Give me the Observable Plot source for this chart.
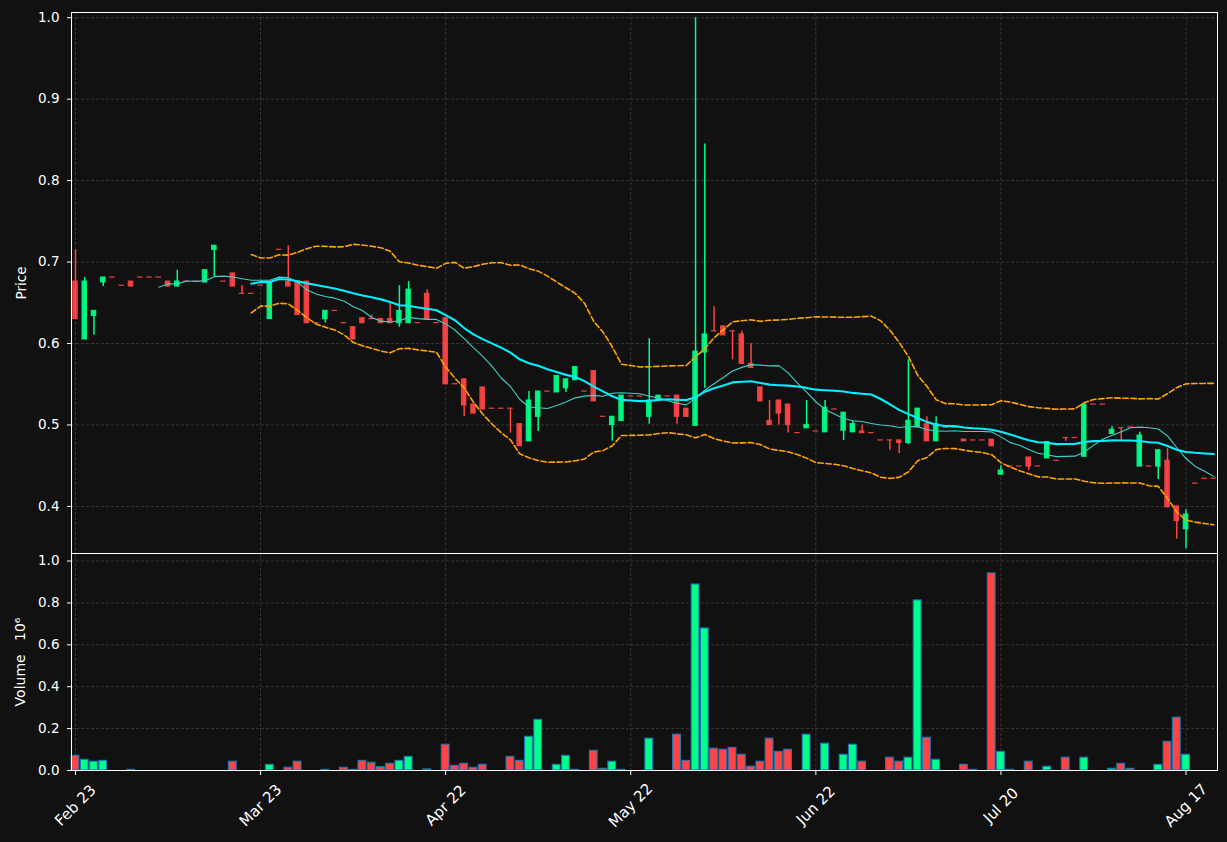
<!DOCTYPE html>
<html>
<head>
<meta charset="utf-8">
<script src="https://cdn.jsdelivr.net/npm/d3@7"></script>
<script src="https://cdn.jsdelivr.net/npm/@observablehq/plot@0.6"></script>
<style>
  html, body { margin: 0; padding: 0; background: #111111; }
  #wrap { position: relative; width: 1227px; height: 842px; background: #111111; overflow: hidden; }
  #wrap > svg, #wrap > figure { position: absolute; left: 0; margin: 0; }
</style>
</head>
<body>
<div id="wrap"></div>
<script>
// ---- data ----
const tickIdx = [0, 20, 40, 60, 80, 100, 120];
const tickLabels = ["Feb 23", "Mar 23", "Apr 22", "May 22", "Jun 22", "Jul 20", "Aug 17"];
const priceTicks = [0.4, 0.5, 0.6, 0.7, 0.8, 0.9, 1.0];
const volumeTicks = [0.0, 0.2, 0.4, 0.6, 0.8, 1.0];

const opens = [
  0.676, 0.605, 0.634, 0.675, 0.681, 0.671, 0.676, 0.681, 0.681, 0.681,
  0.676, 0.670, 0.676, 0.676, 0.675, 0.715, 0.676, 0.686, 0.661, 0.661,
  0.671, 0.630, 0.715, 0.676, 0.676, 0.676, 0.625, 0.630, 0.640, 0.625,
  0.620, 0.631, 0.630, 0.630, 0.630, 0.625, 0.625, 0.625, 0.661, 0.625,
  0.631, 0.550, 0.556, 0.525, 0.546, 0.520, 0.520, 0.520, 0.501, 0.480,
  0.510, 0.541, 0.540, 0.545, 0.555, 0.541, 0.566, 0.510, 0.500, 0.505,
  0.535, 0.535, 0.510, 0.530, 0.535, 0.536, 0.520, 0.499, 0.589, 0.615,
  0.621, 0.615, 0.611, 0.575, 0.546, 0.505, 0.530, 0.525, 0.490, 0.496,
  0.492, 0.491, 0.519, 0.493, 0.491, 0.492, 0.490, 0.481, 0.481, 0.481,
  0.478, 0.497, 0.501, 0.480, 0.4965, 0.4965, 0.482, 0.481, 0.481, 0.482,
  0.439, 0.449, 0.449, 0.460, 0.449, 0.459, 0.456, 0.484, 0.484, 0.461,
  0.525, 0.525, 0.489, 0.496, 0.497, 0.449, 0.449, 0.449, 0.456, 0.400,
  0.372, 0.428, 0.434, 0.434
];
const highs = [
  0.715, 0.681, 0.640, 0.681, 0.681, 0.671, 0.676, 0.681, 0.681, 0.681,
  0.676, 0.690, 0.676, 0.676, 0.690, 0.720, 0.676, 0.686, 0.671, 0.661,
  0.671, 0.675, 0.715, 0.720, 0.676, 0.676, 0.625, 0.640, 0.640, 0.625,
  0.620, 0.631, 0.635, 0.630, 0.651, 0.671, 0.676, 0.625, 0.666, 0.625,
  0.631, 0.550, 0.556, 0.525, 0.546, 0.520, 0.520, 0.520, 0.501, 0.541,
  0.541, 0.541, 0.560, 0.556, 0.571, 0.541, 0.566, 0.510, 0.510, 0.536,
  0.535, 0.535, 0.606, 0.536, 0.535, 0.536, 0.520, 1.000, 0.845, 0.645,
  0.621, 0.615, 0.615, 0.600, 0.546, 0.530, 0.530, 0.525, 0.490, 0.530,
  0.492, 0.530, 0.519, 0.515, 0.505, 0.500, 0.490, 0.481, 0.481, 0.481,
  0.580, 0.520, 0.510, 0.510, 0.4965, 0.4965, 0.482, 0.481, 0.481, 0.482,
  0.450, 0.449, 0.449, 0.460, 0.449, 0.479, 0.456, 0.484, 0.484, 0.525,
  0.525, 0.525, 0.498, 0.496, 0.497, 0.491, 0.449, 0.469, 0.471, 0.400,
  0.396, 0.428, 0.434, 0.434
];
const lows = [
  0.630, 0.605, 0.610, 0.670, 0.681, 0.671, 0.670, 0.681, 0.681, 0.681,
  0.670, 0.670, 0.676, 0.676, 0.675, 0.681, 0.676, 0.670, 0.661, 0.661,
  0.671, 0.630, 0.715, 0.670, 0.635, 0.625, 0.625, 0.625, 0.640, 0.625,
  0.605, 0.625, 0.630, 0.625, 0.625, 0.620, 0.625, 0.625, 0.630, 0.625,
  0.550, 0.550, 0.510, 0.514, 0.519, 0.520, 0.520, 0.490, 0.474, 0.480,
  0.492, 0.541, 0.540, 0.540, 0.555, 0.541, 0.529, 0.510, 0.480, 0.505,
  0.535, 0.535, 0.501, 0.530, 0.535, 0.501, 0.510, 0.499, 0.545, 0.615,
  0.610, 0.580, 0.575, 0.570, 0.529, 0.500, 0.500, 0.490, 0.490, 0.496,
  0.492, 0.491, 0.519, 0.481, 0.491, 0.490, 0.490, 0.481, 0.469, 0.465,
  0.476, 0.497, 0.480, 0.480, 0.4965, 0.4965, 0.480, 0.481, 0.481, 0.474,
  0.439, 0.449, 0.449, 0.444, 0.449, 0.459, 0.456, 0.480, 0.484, 0.461,
  0.525, 0.525, 0.489, 0.480, 0.497, 0.449, 0.449, 0.433, 0.399, 0.360,
  0.348, 0.428, 0.434, 0.434
];
const closes = [
  0.630, 0.676, 0.640, 0.681, 0.681, 0.671, 0.670, 0.681, 0.681, 0.681,
  0.670, 0.676, 0.676, 0.676, 0.690, 0.720, 0.676, 0.670, 0.661, 0.661,
  0.671, 0.675, 0.715, 0.670, 0.635, 0.625, 0.625, 0.640, 0.640, 0.625,
  0.605, 0.625, 0.630, 0.625, 0.625, 0.640, 0.666, 0.625, 0.630, 0.625,
  0.550, 0.550, 0.524, 0.514, 0.519, 0.520, 0.520, 0.520, 0.474, 0.530,
  0.541, 0.541, 0.560, 0.556, 0.571, 0.541, 0.529, 0.510, 0.510, 0.536,
  0.535, 0.535, 0.530, 0.536, 0.535, 0.510, 0.510, 0.590, 0.611, 0.615,
  0.610, 0.615, 0.575, 0.570, 0.529, 0.500, 0.514, 0.500, 0.490, 0.500,
  0.492, 0.521, 0.519, 0.515, 0.501, 0.490, 0.490, 0.481, 0.481, 0.478,
  0.505, 0.520, 0.480, 0.501, 0.4965, 0.4965, 0.480, 0.481, 0.481, 0.474,
  0.444, 0.449, 0.449, 0.449, 0.449, 0.479, 0.456, 0.484, 0.484, 0.525,
  0.525, 0.525, 0.494, 0.496, 0.497, 0.487, 0.449, 0.469, 0.399, 0.382,
  0.390, 0.428, 0.434, 0.434
];
// volume in units of 10^6
const volumes = [
  0.070, 0.051, 0.042, 0.046, 0, 0, 0.003, 0, 0, 0,
  0, 0, 0, 0, 0, 0, 0, 0.042, 0, 0,
  0, 0.027, 0, 0.013, 0.042, 0, 0, 0.003, 0, 0.013,
  0.003, 0.046, 0.037, 0.016, 0.032, 0.046, 0.065, 0, 0.005, 0,
  0.123, 0.022, 0.032, 0.013, 0.027, 0, 0, 0.065, 0.046, 0.161,
  0.242, 0, 0.027, 0.070, 0.003, 0, 0.094, 0.008, 0.042, 0.003,
  0, 0, 0.152, 0, 0, 0.171, 0.046, 0.888, 0.678, 0.104,
  0.099, 0.108, 0.075, 0.018, 0.042, 0.152, 0.089, 0.099, 0, 0.171,
  0, 0.128, 0, 0.075, 0.123, 0.042, 0, 0, 0.061, 0.042,
  0.061, 0.812, 0.156, 0.051, 0, 0, 0.027, 0.003, 0, 0.941,
  0.089, 0.003, 0, 0.042, 0, 0.018, 0, 0.061, 0, 0.061,
  0, 0, 0.008, 0.032, 0.008, 0, 0, 0.027, 0.137, 0.252,
  0.075, 0, 0, 0
];

// ---- styling ----
const UP = "#00ff88";
const DOWN = "#ff4444";
const GRID = "#3a3a3a";
const FONT = "DejaVu Sans";
const FS = 13.5;
const xDomain = [-0.43, 123.4];

const bars = d3.range(closes.length).map(i => ({
  i, o: opens[i], h: highs[i], l: lows[i], c: closes[i], v: volumes[i],
  up: closes[i] > opens[i]
}));
const col = d => d.up ? UP : DOWN;

const gridOpts = {stroke: GRID, strokeOpacity: 1, strokeWidth: 0.9, strokeDasharray: "3.2,1.8"};

const bandMark = (sign) => Plot.lineY(bars, Plot.windowY(
  {k: 20, anchor: "end", strict: true, reduce: V => d3.mean(V) + sign * 2 * d3.deviation(V)},
  {x: "i", y: "c", stroke: "#ffa500", strokeWidth: 1.6, strokeDasharray: "5.5,2.6"}
));

const price = Plot.plot({
  width: 1227, height: 553,
  marginLeft: 71, marginRight: 10, marginTop: 12, marginBottom: 0,
  style: {background: "transparent", color: "white", fontFamily: FONT, fontSize: FS + "px", overflow: "visible"},
  x: {type: "linear", domain: xDomain, axis: null},
  y: {domain: [0.3422, 1.0064], axis: null},
  marks: [
    Plot.gridY(priceTicks, gridOpts),
    Plot.gridX(tickIdx, gridOpts),
    Plot.ruleX(bars, {x: "i", y1: "l", y2: "h", stroke: col, strokeWidth: 1.5}),
    Plot.rect(bars, {
      x1: d => d.i - 0.3, x2: d => d.i + 0.3, y1: "o", y2: "c",
      fill: col, fillOpacity: 0.92, insetTop: -0.6, insetBottom: -0.6
    }),
    bandMark(1),
    bandMark(-1),
    Plot.lineY(bars, Plot.windowY({k: 10, anchor: "end", strict: true, reduce: "mean"},
      {x: "i", y: "c", stroke: "#40d0c8", strokeWidth: 1.1})),
    Plot.lineY(bars, Plot.windowY({k: 20, anchor: "end", strict: true, reduce: "mean"},
      {x: "i", y: "c", stroke: "#00f0ff", strokeWidth: 2.1})),
    Plot.axisY(priceTicks, {tickFormat: d3.format(".1f"), tickSize: 4, tickPadding: 8, label: null, fontSize: FS}),
    Plot.frame({stroke: "white", strokeWidth: 1}),
    Plot.text(["Price"], {frameAnchor: "left", dx: -50, rotate: -90, textAnchor: "middle", fill: "white", fontSize: FS})
  ]
});

const volume = Plot.plot({
  width: 1227, height: 289,
  marginLeft: 71, marginRight: 10, marginTop: 0, marginBottom: 72,
  style: {background: "transparent", color: "white", fontFamily: FONT, fontSize: FS + "px", overflow: "visible"},
  x: {type: "linear", domain: xDomain, axis: null},
  y: {domain: [0, 1.036], axis: null},
  marks: [
    Plot.gridY(volumeTicks.slice(1), gridOpts),
    Plot.gridX(tickIdx, gridOpts),
    Plot.rect(bars.filter(d => d.v > 0), {
      x1: d => d.i - 0.42, x2: d => d.i + 0.42, y1: 0, y2: "v",
      fill: col, stroke: "#1f77b4", strokeWidth: 1.1
    }),
    Plot.axisY(volumeTicks, {tickFormat: d3.format(".1f"), tickSize: 4, tickPadding: 8, label: null, fontSize: FS}),
    Plot.axisX(tickIdx, {tickFormat: () => "", tickSize: 5, label: null}),
    Plot.text(tickIdx, {
      x: d => d, frameAnchor: "bottom", dy: 35, rotate: -45,
      text: (d, k) => tickLabels[k], textAnchor: "middle", lineAnchor: "middle",
      fill: "white", fontSize: 15
    }),
    Plot.frame({stroke: "white", strokeWidth: 1}),
    Plot.text(["Volume   10\u2076"], {frameAnchor: "left", dx: -51, rotate: -90, textAnchor: "middle", fill: "white", fontSize: 14})
  ]
});

const wrap = document.getElementById("wrap");
price.style.top = "0px";
volume.style.top = "553px";
wrap.appendChild(price);
wrap.appendChild(volume);
</script>
</body>
</html>
